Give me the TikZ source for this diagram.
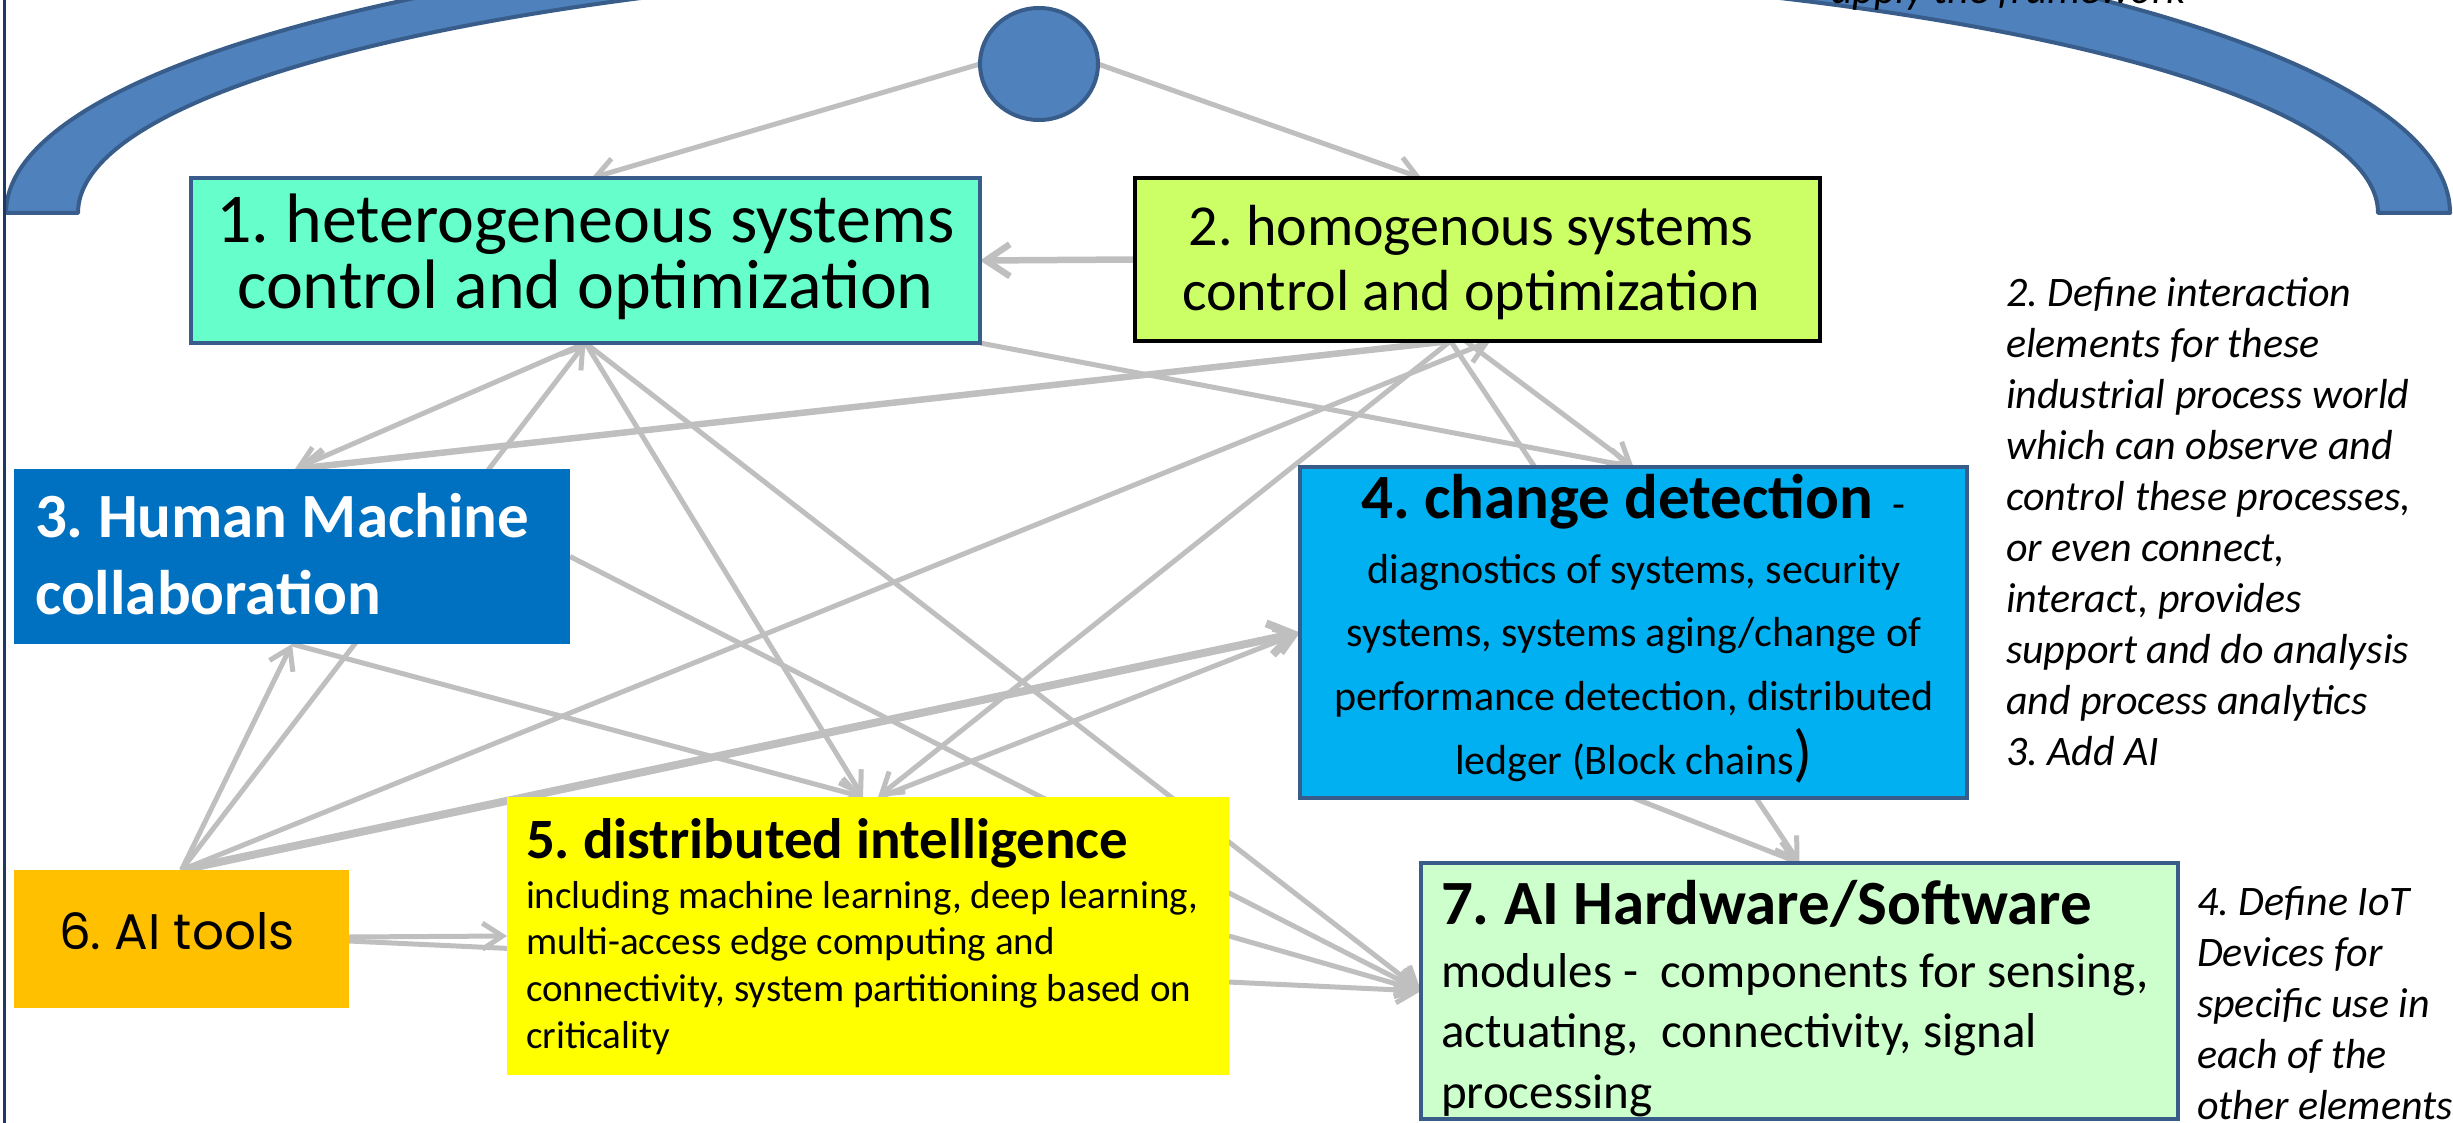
\documentclass[tikz,border=0pt]{standalone}
\usepackage{fontspec}
\setmainfont{Carlito}
\newfontfamily\gothic{Poppins}
\usetikzlibrary{shapes.geometric,arrows.meta}
\pgfdeclarelayer{bg}
\pgfsetlayers{bg,main}
\definecolor{aqua}{HTML}{66FFCC}
\definecolor{lime}{HTML}{CCFF66}
\definecolor{hmblue}{HTML}{0070C0}
\definecolor{cyanb}{HTML}{00B0F0}
\definecolor{yel}{HTML}{FFFF00}
\definecolor{amber}{HTML}{FFC000}
\definecolor{mint}{HTML}{CCFFCC}
\definecolor{bord}{HTML}{385D8A}
\definecolor{arcfill}{HTML}{4F81BD}
\definecolor{lgray}{HTML}{BFBFBF}
\definecolor{navy}{HTML}{1F3864}
\newcommand{\fs}[2]{\fontsize{#1}{#2}\selectfont\spaceskip=\fontdimen2\font\xspaceskip=\fontdimen2\font\lineskiplimit=-200pt\relax}
\begin{document}
\begin{tikzpicture}[x=1pt,y=-1pt,
  box/.style={rectangle,inner sep=0pt,outer sep=0pt,line width=4pt},
  conn/.style={draw=lgray,line width=5pt,-{Straight Barb[length=20pt,width=26pt]}},
  heavy/.style={draw=lgray,line width=6.5pt,-{Straight Barb[length=24pt,width=32pt]}},
  lbl/.style={inner sep=0pt,outer sep=0pt,anchor=base west,align=left},
  clbl/.style={inner sep=0pt,outer sep=0pt,anchor=base,align=center}]
\useasboundingbox (0,0) rectangle (2453,1123);

% shapes
\node[ellipse,draw=bord,fill=arcfill,line width=4pt,inner sep=0pt,outer sep=0pt,minimum width=118pt,minimum height=112pt] (ell) at (1039,64) {};
\node[box,draw=bord,fill=aqua,minimum width=789pt,minimum height=165pt] (b1) at (585.5,260.5) {};
\node[box,draw=black,fill=lime,minimum width=685pt,minimum height=163pt] (b2) at (1477.5,259.5) {};
\node[box,fill=hmblue,minimum width=556pt,minimum height=175pt] (b3) at (292,556.5) {};
\node[box,draw=bord,fill=cyanb,minimum width=667pt,minimum height=331pt] (b4) at (1633.5,632.5) {};
\node[box,fill=yel,minimum width=722pt,minimum height=278pt] (b5) at (868,936) {};
\node[box,fill=amber,minimum width=335pt,minimum height=138pt] (b6) at (181.5,939) {};
\node[box,draw=bord,fill=mint,minimum width=757pt,minimum height=256pt] (b7) at (1799.5,991) {};

% texts
\node[clbl,text width=800pt] (t1) at (585.5,243)
  {\fs{70}{66}1. heterogeneous systems\\control and optimization\par};
\node[clbl,text width=700pt] (t2) at (1471,246)
  {\fs{58}{65}2. homogenous systems\\control and optimization\par};
\node[lbl,text width=540pt,text=white] (t3) at (35,537)
  {\bfseries\fs{63}{77}3. Human Machine\\collaboration\par};
\node[clbl,text width=660pt] (t4a) at (1633,518)
  {{\bfseries\fs{63}{70}4. change detection}{\fs{42}{50}\ \ -}\par};
\node[clbl,text width=660pt] (t4b) at (1634,583)
  {\fs{42}{63.7}diagnostics of systems, security\\systems, systems aging/change of\\performance detection, distributed\\ledger (Block chains{\fs{63}{63.7})}\par};
\node[lbl,text width=700pt] (t5a) at (526,858)
  {\bfseries\fs{57}{60}5. distributed intelligence\par};
\node[lbl,text width=700pt] (t5b) at (526,908)
  {\fs{39}{46.7}including machine learning, deep learning,\\multi-access edge computing and\\connectivity, system partitioning based on\\criticality\par};
\node[lbl,text width=320pt] (t6) at (59,949)
  {\gothic\fs{50}{55}6. AI tools\par};
\node[lbl,text width=740pt] (t7a) at (1441,924)
  {\bfseries\fs{63}{70}7. AI Hardware/Software\par};
\node[lbl,text width=740pt] (t7b) at (1441,987)
  {\fs{49}{60.5}modules -\ \ components for sensing,\\actuating,\ \ connectivity, signal\\processing\par};
\node[lbl,text width=460pt] (t8) at (2006,307)
  {\itshape\fs{42}{51}2. Define interaction\\elements for these\\industrial process world\\which can observe and\\control these processes,\\or even connect,\\interact, provides\\support and do analysis\\and process analytics\\3. Add AI\par};
\node[lbl,text width=400pt] (t9) at (2197,915)
  {\itshape\fs{42}{51.2}4. Define IoT\\Devices for\\specific use in\\each of the\\other elements\par};
\node[lbl,text width=500pt] (t10) at (1831,4)
  {\itshape\fs{42}{50}apply the framework\par};

\begin{pgfonlayer}{bg}
\clip (0,0) rectangle (2453,1123);
% big block arc (top cut off)
\draw[draw=bord,fill=arcfill,line width=4pt,line join=round]
  (6,213) arc[start angle=180,end angle=270,x radius=1222,y radius=288]
  -- (1228,-37) arc[start angle=270,end angle=180,x radius=1150,y radius=250] -- cycle;
\draw[draw=bord,fill=arcfill,line width=4pt,line join=round]
  (1228,-92) arc[start angle=270,end angle=360,x radius=1222,y radius=305]
  -- (2378,213) arc[start angle=0,end angle=-90,x radius=1150,y radius=245] -- cycle;
% connectors
\draw[conn] (ell.west) -- ([xshift=6pt]b1.north);
\draw[conn] (ell.east) -- ([xshift=-56pt]b2.north);
\draw[heavy] (b2.west) -- (b1.east);
\draw[conn] (b1.south) -- ([xshift=3pt]b3.north);
\draw[heavy] ([xshift=-27pt]b2.south) -- ([xshift=3pt]b3.north);
\draw[conn] (b6.north) -- (b3.south);
\draw[conn] (b6.north) -- (b1.south);
\draw[conn] (b6.north) -- ([xshift=13pt]b2.south);
\draw[heavy,line width=8pt] (b6.north) -- (b4.west);
\draw[conn] ([yshift=2pt]b6.east) -- (b5.west);
\draw[conn] ([yshift=-2pt]b6.east) -- (b7.west);
\draw[conn] (b1.south) -- ([xshift=-5pt]b5.north);
\draw[conn] (b1.south) -- (b7.west);
\draw[conn] (b3.east) -- (b7.west);
\draw[conn] (b3.south) -- ([xshift=-5pt]b5.north);
\draw[conn] ([xshift=-27pt]b2.south) -- ([xshift=10pt]b5.north);
\draw[conn] ([xshift=12pt]b5.north) -- (b4.west);
\draw[conn] (b1.south east) -- (b4.north);
\draw[conn] ([xshift=-12pt]b2.south) -- (b4.north);
\draw[conn] ([xshift=-27pt]b2.south) -- (b7.north);
\draw[conn] (b4.south) -- (b7.north);
\draw[conn] (b5.east) -- (b7.west);
\end{pgfonlayer}

% slide left edge
\draw[navy,line width=3pt] (4,0) -- (4,1123);
\end{tikzpicture}
\end{document}
